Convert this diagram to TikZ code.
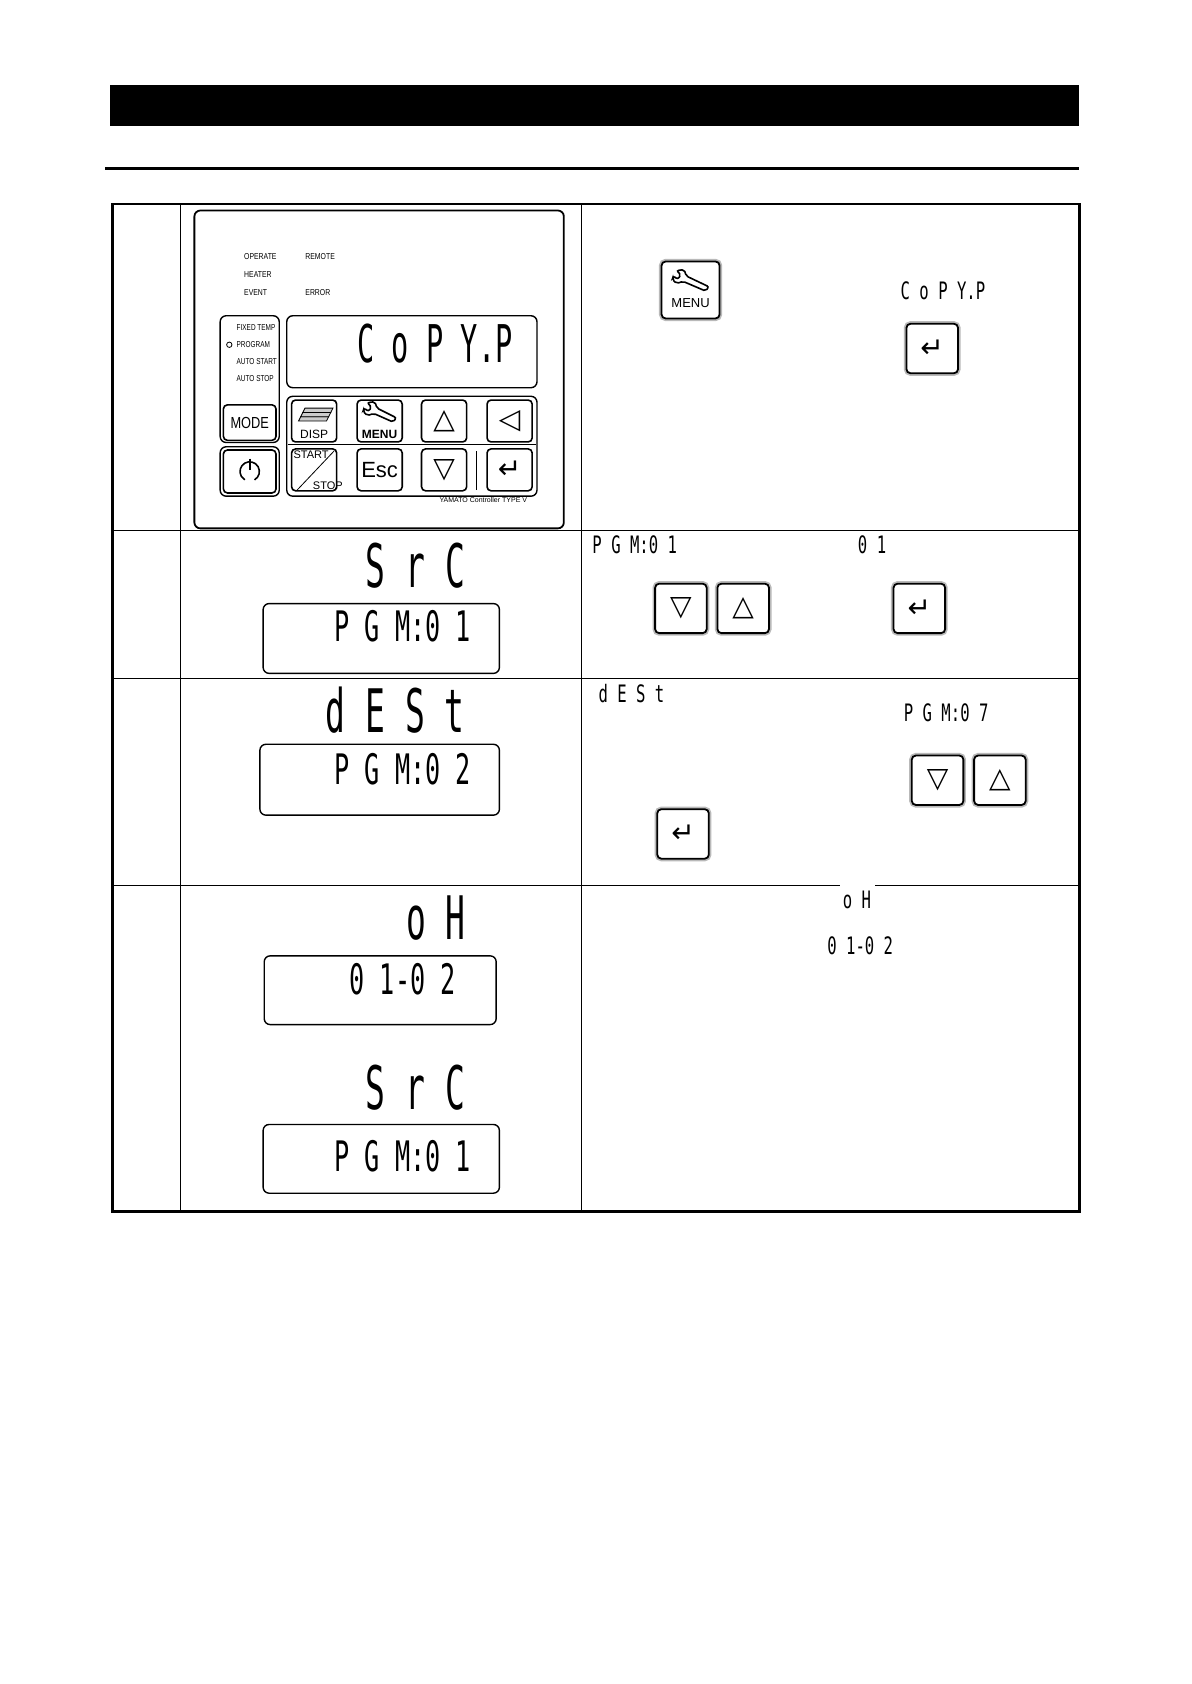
\documentclass[tikz,border=0pt]{standalone}
\usepackage{fontspec}
\setmainfont{Liberation Sans}
\newfontfamily\segfont{DejaVu Sans Mono}
\newfontfamily\symfont{DejaVu Sans}
\usetikzlibrary{positioning}
\def\u{0.537pt}
\newcommand{\seg}[2]{\scalebox{#1}[1]{#2}}
\begin{document}
\begin{tikzpicture}[x=0.537pt,y=-0.537pt]
            \tikzstyle{key}=[draw=black,line width=0.9pt,rounded corners=2pt,fill=white,minimum width=48*\u,minimum height=46*\u,inner sep=0pt,preaction={draw=gray!55,line width=2.6pt}]
            \tikzstyle{pkey}=[draw=black,line width=0.8pt,rounded corners=2pt,fill=white,minimum width=42*\u,minimum height=39*\u,inner sep=0pt]
            \tikzstyle{lcd}=[draw=black,rounded corners=3pt,line width=0.7pt]
            \tikzstyle{tiny}=[font=\fontsize{4.3}{5}\selectfont,anchor=west,inner sep=0pt]
            \tikzstyle{big}=[font=\segfont\fontsize{30}{30}\selectfont,inner sep=0pt]
            \tikzstyle{mid}=[font=\segfont\fontsize{21}{21}\selectfont,inner sep=0pt]
            \tikzstyle{small}=[font=\segfont\fontsize{12}{12}\selectfont,inner sep=0pt]
            \tikzstyle{sym}=[font=\symfont\fontsize{14}{14}\selectfont]
            \tikzstyle{wrench}=[line width=0.8pt,rounded corners=1pt]

            \useasboundingbox (0,0) rectangle (1109,1568);

            % heading
            \fill (102,79) rectangle (1005,117);
            \draw[line width=1.2pt] (98,157) -- (1005,157);

            % table
            \draw[line width=1.3pt] (105,190) rectangle (1005,1128);
            \draw (168,190) -- (168,1128);
            \draw (541,190) -- (541,1128);
            \draw (105,494) -- (1005,494);
            \draw (105,632) -- (1005,632);
            \draw (105,824) -- (1005,824);

            % controller panel
            \draw[lcd,line width=0.9pt] (181,196) rectangle (525,492);
            \node[tiny] (op)  at (227,239) {\seg{0.8}{OPERATE}};
            \node[tiny] (rem) at (284,239) {\seg{0.8}{REMOTE}};
            \node[tiny] (ht)  at (227,256) {\seg{0.8}{HEATER}};
            \node[tiny] (ev)  at (227,272) {\seg{0.8}{EVENT}};
            \node[tiny] (err) at (284,272) {\seg{0.8}{ERROR}};
            \draw[lcd] (205,294) rectangle (260,412);
            \node[tiny] (fx) at (220,305) {\seg{0.75}{FIXED TEMP}};
            \node[tiny] (pg) at (220,321) {\seg{0.75}{PROGRAM}};
            \draw (213.5,321) circle (2.5);
            \node[tiny] (as) at (220,337) {\seg{0.75}{AUTO START}};
            \node[tiny] (ast) at (220,352) {\seg{0.75}{AUTO STOP}};
            \node[pkey,minimum width=49*\u,minimum height=33*\u,font=\fontsize{8}{8}\selectfont] (mode) at (232.5,393.5) {\seg{0.8}{MODE}};
            \draw[lcd] (205,416) rectangle (260,462);
            \node[pkey,minimum width=49*\u,minimum height=40*\u] (pwr) at (232.5,439) {};
            \draw[line width=0.8pt] (pwr.center) ++(60:9) arc (60:-240:9);
            \draw[line width=0.8pt] (pwr.center) ++(0,-12) -- ++(0,11);
            \draw[lcd] (267,294) rectangle (500,361);
            \node[font=\segfont\fontsize{26}{26}\selectfont,inner sep=0pt] (copy) at (405,320) {\seg{0.55}{C o P Y.P}};
            \draw[lcd] (267,369) rectangle (500,462);
            \draw (268,414) -- (499,414);
            \draw (444,420) -- (444,456);
            \node[pkey] (disp) at (292.5,392) {};
            \node[font=\fontsize{6}{6}\selectfont,below=1pt of disp.center] (dispt) {DISP};
            \foreach \k in {0,1,2}
              \draw[fill=gray!40] (280+\k*2,388-\k*4) -- (306+\k*2,388-\k*4) -- (304+\k*2,392-\k*4) -- (278+\k*2,392-\k*4) -- cycle;
            \node[pkey] (menu) at (353.5,392) {};
            \node[font=\bfseries\fontsize{6}{6}\selectfont,below=1pt of menu.center] (menut) {MENU};
            \draw[wrench] (342,375) -- (346,379) -- (343,383) -- (339,380) -- (338,383) -- (342,387) -- (348,385) -- (366,393) -- (369,389) -- (351,380) -- (349,374) -- cycle;
            \node[pkey,sym] (up) at (413.5,392) {△};
            \node[pkey,sym] (left) at (474.5,392) {◁};
            \node[pkey] (ss) at (292.5,437.5) {};
            \draw (276,457) -- (311,420);
            \node[tiny,font=\fontsize{5.5}{6}\selectfont] (sst) at (273,423) {START};
            \node[tiny,font=\fontsize{5.5}{6}\selectfont] (sss) at (291,452) {STOP};
            \node[pkey,font=\fontsize{11}{11}\selectfont] (esc) at (353.5,437.5) {Esc};
            \node[pkey,sym] (down) at (413.5,437.5) {▽};
            \node[pkey,sym] (ent) at (474.5,437.5) {↵};
            \node[font=\fontsize{3.5}{4}\selectfont,inner sep=0pt] (brand) at (450,466) {YAMATO Controller TYPE V};

            % row 1 text side
            \node[key,minimum width=54*\u,minimum height=53*\u] (menukey) at (643,270) {};
            \node[font=\fontsize{6.5}{7}\selectfont,below=1pt of menukey.center] (menukt) {MENU};
            \draw[wrench] (630,252) -- (634,256) -- (631,260) -- (627,257) -- (626,260) -- (630,264) -- (636,262) -- (657,271) -- (660,267) -- (639,257) -- (637,251) -- cycle;
            \node[small] (copys) at (878,271) {\seg{0.65}{C o P Y.P}};
            \node[key,sym] (ent1) at (868,324.5) {↵};

            % row 2
            \node[big] (src) at (387,527) {\seg{0.55}{S r C}};
            \draw[lcd] (245,562) rectangle (465,627);
            \node[mid] (pgm1) at (375,583) {\seg{0.6}{P G M:0 1}};
            \node[small] (pgm1s) at (591,507) {\seg{0.65}{P G M:0 1}};
            \node[small] (n01) at (812,507) {\seg{0.65}{0 1}};
            \node[key,sym] (dn2) at (634,566.5) {▽};
            \node[key,sym] (up2) at (692,566.5) {△};
            \node[key,sym] (ent2) at (856,566.5) {↵};

            % row 3
            \node[big] (dest) at (368,661) {\seg{0.55}{d E S t}};
            \draw[lcd] (242,693) rectangle (465,759);
            \node[mid] (pgm2) at (375,716) {\seg{0.6}{P G M:0 2}};
            \node[small] (dests) at (588,646) {\seg{0.65}{d E S t}};
            \node[small] (pgm7) at (881,664) {\seg{0.65}{P G M:0 7}};
            \node[key,sym] (dn3) at (873,726.5) {▽};
            \node[key,sym] (up3) at (931,726.5) {△};
            \node[key,sym] (ent3) at (636,776.5) {↵};

            % row 4
            \node[big] (ok) at (406,855) {\seg{0.55}{o H}};
            \draw[lcd] (246,890) rectangle (462,954);
            \node[mid] (cp) at (375,912) {\seg{0.6}{0 1-0 2}};
            \node[big] (src2) at (387,1013) {\seg{0.55}{S r C}};
            \draw[lcd] (245,1047) rectangle (465,1111);
            \node[mid] (pgm3) at (375,1077) {\seg{0.6}{P G M:0 1}};
            \fill[white] (782,822) rectangle (815,826);
            \node[small] (oks) at (798,838) {\seg{0.65}{o H}};
            \node[small] (cps) at (801,881) {\seg{0.65}{0 1-0 2}};
        \end{tikzpicture}
\end{document}
